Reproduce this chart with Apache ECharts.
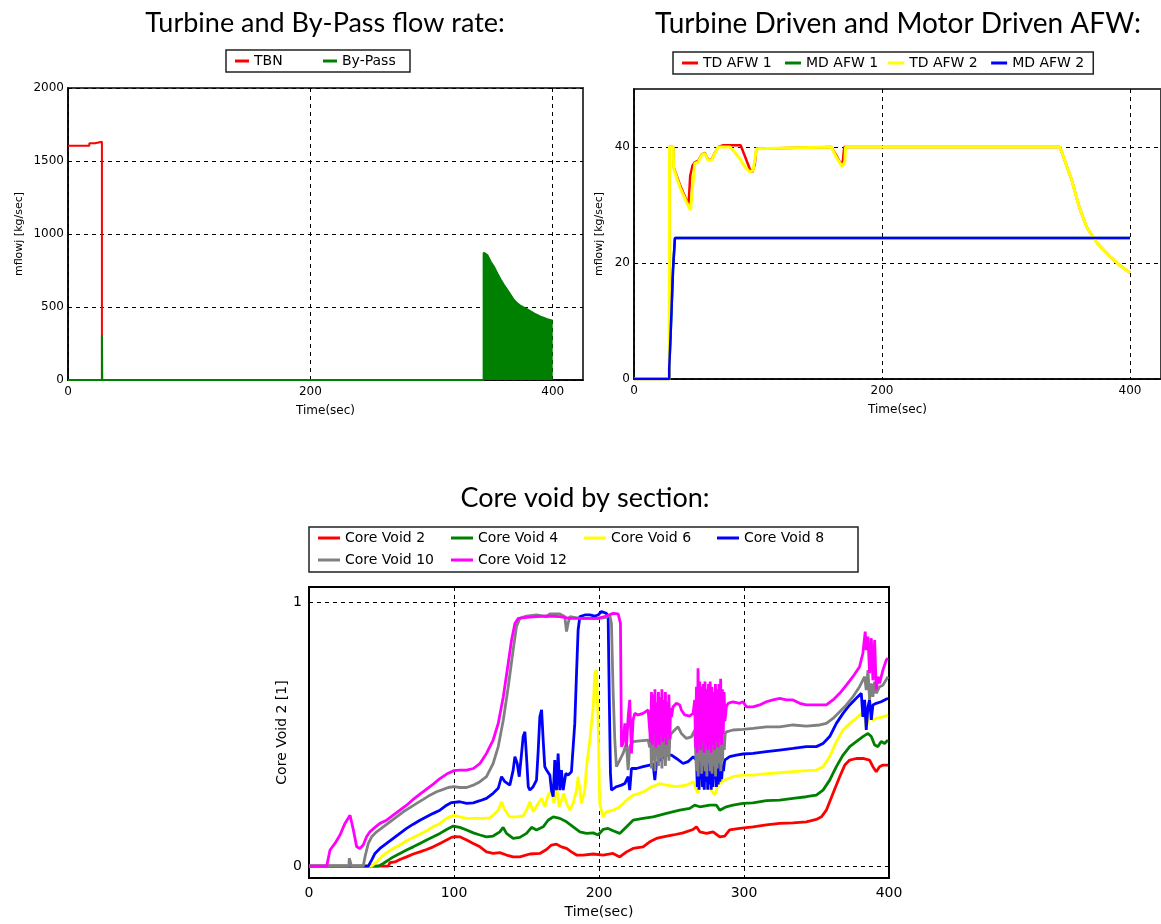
<!DOCTYPE html>
<html>
<head>
<meta charset="utf-8">
<script src="https://cdn.jsdelivr.net/npm/echarts@6/dist/echarts.min.js"></script>
<style>
html,body{margin:0;padding:0;background:#fff;}
#c{width:1161px;height:924px;}
</style>
</head>
<body>
<div id="c"></div>
<script>
// ---------- Titles ----------
const titles = ["Turbine and By-Pass flow rate:", "Turbine Driven and Motor Driven AFW:", "Core void by section:"];

// ---------- Chart 1: Turbine and By-Pass flow rate ----------
const flowNames = ["TBN", "By-Pass"];
const tbn = [[0,1605],[17.6,1605],[17.6,1621],[22.3,1621],[22.3,1632],[28,1632],[28,0],[342,0]];
const bypass = [[0,0],[28,0],[28,308],[28.3,0],[343,0],[343,872],[346,856],[348.8,810],[351.5,776],[354.3,730],[357,689],[359.8,651],[362.6,616],[365.3,582],[368,548],[370.8,525],[373.6,507],[379,484],[384.5,456],[390,434],[395.6,416],[400,406]];
const flowXTicks = [0,200,400];
const flowYTicks = [0,500,1000,1500,2000];

// ---------- Chart 2: AFW ----------
const afwNames = ["TD AFW 1", "MD AFW 1", "TD AFW 2", "MD AFW 2"];
const tdAfw1 = [[0,0],[28.4,0],[28.6,40],[31.6,40],[32,36.5],[37,33.5],[42,31],[44,30],[45.3,35],[47.2,36.8],[49.1,37.4],[51.8,37.6],[54.5,38.7],[57.1,39],[59.8,37.8],[62.5,37.8],[65.2,39],[67.9,40],[72,40.3],[86,40.3],[89.3,38.5],[93.4,36.2],[95.5,35.7],[97.4,37],[98.7,39.7],[100,40],[159,40],[163,38.6],[167,37],[168.5,37.6],[169.5,40],[343.5,40],[353,34.3],[359,29.7],[365,26.2],[374,23.3],[383,21.3],[391.7,19.6],[400,18.3]];
const mdAfw1 = [[0,0],[28.4,0],[28.4,1.8],[29.5,1.8],[29.5,7.5],[30.5,7.5],[30.5,13.3],[31.5,13.3],[31.5,19],[33,19],[33,24.3],[400,24.3]];
const tdAfw2 = [[0,0],[28.4,0],[28.6,40],[31.6,40],[32,36.3],[37,33.1],[42.4,30.5],[45.6,29.1],[47.2,33.1],[49.1,37.2],[51.8,37.4],[54.5,38.6],[57.1,38.9],[59.8,37.7],[62.5,37.7],[65.2,38.9],[67.9,40],[77.3,40],[81.3,39.1],[85.3,38.0],[89.3,36.6],[93.4,35.7],[96,36.0],[97.4,37.7],[98.7,39.7],[100,40],[159,40],[163,38.3],[168,36.6],[170,37.5],[170.6,40],[343.5,40],[353,34.3],[359,29.7],[365,26.2],[374,23.3],[383,21.3],[391.7,19.6],[400,18.3]];
const mdAfw2 = [[0,0],[28.4,0],[28.4,1.8],[29.5,1.8],[29.5,7.5],[30.5,7.5],[30.5,13.3],[31.5,13.3],[31.5,19],[33,19],[33,24.3],[400,24.3]];
const afwXTicks = [0,200,400];
const afwYTicks = [0,20,40];

// ---------- Chart 3: Core void ----------
const voidNames = ["Core Void 2","Core Void 4","Core Void 6","Core Void 8","Core Void 10","Core Void 12"];
const void2 = [[0,0],[54.7,0],[55.8,0.013],[59.3,0.016],[62.7,0.025],[67.3,0.035],[71.9,0.046],[76.5,0.054],[81.1,0.063],[85.7,0.073],[90.3,0.086],[94.9,0.099],[98.3,0.109],[101,0.112],[104,0.111],[108.7,0.099],[113.3,0.086],[117.9,0.073],[122.4,0.054],[127,0.048],[131.6,0.051],[136.2,0.042],[140.8,0.035],[145.4,0.035],[152.3,0.046],[159.2,0.048],[163.8,0.063],[167.2,0.08],[170.7,0.083],[174.1,0.073],[177.6,0.067],[181,0.054],[184.5,0.042],[189.1,0.042],[196,0.046],[202.8,0.042],[209.7,0.048],[214.3,0.035],[219,0.054],[223.5,0.067],[230.4,0.073],[235,0.092],[239.6,0.105],[244.2,0.111],[251.1,0.118],[258,0.126],[264.9,0.139],[267.2,0.149],[269.5,0.13],[274.1,0.124],[278.7,0.13],[283.3,0.111],[286.7,0.114],[290.1,0.137],[297,0.143],[306.2,0.149],[315.4,0.156],[324.6,0.162],[333.8,0.164],[343,0.168],[349.9,0.177],[353.4,0.187],[356.8,0.212],[361.4,0.276],[366,0.339],[369.5,0.383],[372.9,0.402],[377.4,0.408],[382,0.408],[386.6,0.402],[388.9,0.377],[391.2,0.358],[393.5,0.377],[395.8,0.383],[399.3,0.383]];
const void4 = [[0,0],[47.8,0],[51.2,0.01],[54.7,0.023],[58.1,0.035],[62.7,0.048],[67.3,0.061],[71.9,0.073],[76.5,0.086],[81.1,0.099],[85.7,0.111],[90.3,0.124],[94.9,0.139],[99.5,0.152],[104,0.147],[108.7,0.137],[113.3,0.126],[117.9,0.118],[122.4,0.111],[127,0.114],[131.6,0.13],[133.9,0.147],[136.2,0.124],[140.8,0.105],[145.4,0.109],[150,0.124],[153.5,0.147],[156.9,0.137],[161.5,0.149],[164.9,0.174],[168.4,0.187],[173,0.181],[177.6,0.168],[182.2,0.149],[186.8,0.13],[191.4,0.124],[196,0.126],[199.4,0.118],[202.8,0.139],[206.3,0.143],[209.7,0.134],[214.3,0.124],[219,0.149],[223.5,0.174],[230.4,0.181],[237.3,0.187],[246.5,0.2],[255.7,0.212],[262.6,0.219],[266,0.231],[269.5,0.225],[276.4,0.231],[281,0.231],[283.3,0.212],[287.8,0.225],[292.4,0.231],[299.3,0.238],[306.2,0.24],[315.4,0.248],[324.6,0.25],[333.8,0.257],[343,0.263],[349.9,0.269],[354.5,0.288],[359.1,0.326],[363.7,0.377],[368.3,0.421],[372.9,0.453],[377.4,0.472],[382,0.491],[385.5,0.503],[387.8,0.491],[390.1,0.459],[392.4,0.453],[394.6,0.472],[397,0.465],[399.3,0.478]];
const void6 = [[0,0],[43.2,0],[46.6,0.016],[50.1,0.035],[53.5,0.051],[58.1,0.067],[62.7,0.08],[67.3,0.096],[71.9,0.109],[76.5,0.121],[81.1,0.134],[85.7,0.149],[90.3,0.162],[94.9,0.181],[99.5,0.193],[104,0.187],[108.7,0.181],[113.3,0.181],[120,0.181],[124.7,0.183],[127,0.193],[130.5,0.212],[132.8,0.244],[135.1,0.212],[138.5,0.187],[143.1,0.187],[147.7,0.19],[150,0.212],[152.3,0.244],[154.6,0.206],[158.1,0.238],[160.4,0.257],[162.6,0.225],[164.9,0.269],[167.2,0.288],[168.9,0.238],[170.7,0.301],[172.5,0.225],[174.1,0.25],[175.7,0.276],[177.6,0.238],[179.9,0.212],[182.2,0.238],[184.5,0.288],[185.6,0.339],[186.8,0.288],[187.9,0.238],[190.2,0.288],[191.4,0.377],[193.7,0.478],[196,0.604],[197.1,0.731],[198.3,0.743],[199.4,0.541],[200.5,0.238],[202.8,0.187],[205.1,0.206],[209.7,0.212],[214.3,0.225],[219,0.25],[223.5,0.269],[228.1,0.276],[232.7,0.288],[236.2,0.301],[239.6,0.307],[241.9,0.313],[246.5,0.307],[253.4,0.301],[260.3,0.307],[265,0.32],[267.2,0.288],[268.3,0.276],[269.5,0.326],[271.8,0.301],[276.4,0.295],[279.8,0.269],[282.1,0.307],[284.4,0.32],[287.8,0.329],[292.4,0.339],[299.3,0.345],[306.2,0.345],[315.4,0.351],[324.6,0.354],[333.8,0.358],[343,0.362],[349.9,0.364],[354.5,0.377],[359.1,0.415],[363.7,0.472],[368.3,0.516],[372.9,0.541],[377.4,0.56],[380.9,0.579],[383.2,0.566],[384.3,0.528],[385.5,0.534],[386.6,0.566],[388.9,0.554],[391.2,0.56],[395.8,0.566],[399.3,0.573]];
const void8 = [[0,0],[40.9,0],[43.2,0.023],[45.5,0.048],[48.9,0.067],[53.5,0.086],[58.1,0.105],[62.7,0.124],[67.3,0.143],[71.9,0.159],[76.5,0.174],[81.1,0.187],[85.7,0.2],[90.3,0.212],[94.9,0.231],[98.3,0.241],[104,0.244],[108.7,0.238],[113.3,0.24],[117.9,0.248],[122.4,0.257],[127,0.276],[130.5,0.295],[132.8,0.339],[135.1,0.32],[138.5,0.307],[140.8,0.364],[142,0.415],[143.6,0.389],[145,0.339],[146.6,0.427],[147.7,0.491],[148.9,0.509],[150,0.415],[151.2,0.301],[152.3,0.288],[154.6,0.301],[156.9,0.326],[158.1,0.44],[159.2,0.566],[160.4,0.592],[161.5,0.478],[162.6,0.377],[163.8,0.364],[166.1,0.345],[167.2,0.288],[168.4,0.263],[169.5,0.402],[170.7,0.288],[171.8,0.427],[173,0.288],[174.1,0.364],[175.3,0.288],[177.1,0.351],[178.7,0.345],[181,0.358],[183.3,0.541],[184.5,0.731],[185.6,0.895],[186.8,0.946],[190.2,0.952],[193.7,0.952],[197.1,0.948],[199.4,0.952],[201.7,0.965],[205.1,0.958],[206.3,0.946],[207,0.667],[207.9,0.351],[208.6,0.288],[212,0.301],[215.5,0.307],[217.8,0.313],[218.9,0.326],[220.1,0.339],[221.2,0.288],[222.4,0.37],[225.8,0.37],[230.4,0.377],[235,0.383],[237.3,0.389],[238.5,0.326],[239.6,0.389],[241.9,0.402],[246.5,0.421],[250,0.421],[253.4,0.408],[258,0.389],[261.4,0.396],[265,0.415],[267.2,0.402],[267.8,0.3],[268.4,0.41],[269,0.29],[269.6,0.4],[270.2,0.33],[270.8,0.42],[271.4,0.3],[272,0.38],[272.6,0.29],[273.2,0.41],[273.8,0.32],[274.4,0.4],[275,0.29],[275.6,0.39],[276.2,0.31],[276.8,0.41],[277.4,0.29],[278,0.38],[278.6,0.3],[279.2,0.41],[279.8,0.33],[280.4,0.4],[281,0.3],[281.6,0.39],[282.2,0.31],[282.8,0.4],[283.4,0.32],[284,0.41],[284.6,0.33],[285.2,0.38],[285.8,0.36],[286.7,0.402],[290.1,0.415],[294.7,0.421],[299.3,0.425],[306.2,0.427],[315.4,0.434],[324.6,0.44],[333.8,0.446],[343,0.453],[349.9,0.453],[354.5,0.465],[359.1,0.491],[363.7,0.541],[368.3,0.579],[372.9,0.611],[377.4,0.636],[380.9,0.655],[382,0.566],[383.2,0.63],[384.3,0.516],[385.5,0.604],[386.6,0.63],[387.8,0.554],[388.9,0.611],[391.2,0.617],[394.6,0.623],[399.3,0.636]];
const void10 = [[0,0],[27.5,0],[27.8,0.03],[29,0.03],[29.3,0],[37.4,0],[38.6,0.035],[40.9,0.086],[43.2,0.111],[46.6,0.13],[51.2,0.149],[55.8,0.168],[60.4,0.187],[65,0.206],[69.6,0.222],[74.2,0.238],[78.8,0.253],[83.4,0.269],[88,0.282],[92.6,0.291],[96,0.298],[100,0.301],[104,0.298],[108.7,0.298],[113.3,0.307],[117.9,0.32],[122.4,0.339],[127,0.389],[130.5,0.453],[134,0.554],[137.4,0.68],[140.8,0.819],[143.1,0.908],[145.4,0.939],[150,0.948],[156.9,0.952],[163.8,0.946],[166.1,0.956],[173,0.956],[176.4,0.946],[177.6,0.889],[178.7,0.92],[179.9,0.946],[186.8,0.939],[199.4,0.939],[205.1,0.943],[207.4,0.952],[208.6,0.92],[209.7,0.667],[210.9,0.478],[212,0.377],[213.2,0.389],[216.6,0.427],[218.9,0.465],[220.1,0.364],[221.2,0.453],[223.5,0.472],[228.1,0.475],[233.9,0.478],[235,0.45],[235.6,0.52],[236.2,0.37],[236.8,0.5],[237.4,0.4],[238,0.53],[238.6,0.36],[239.2,0.48],[239.8,0.42],[240.4,0.52],[241,0.38],[241.6,0.5],[242.2,0.41],[242.8,0.53],[243.4,0.37],[244,0.49],[244.6,0.43],[245.2,0.52],[245.8,0.38],[246.4,0.5],[247,0.42],[247.6,0.51],[248.2,0.4],[248.8,0.48],[249.4,0.5],[250,0.503],[252.2,0.516],[254.5,0.528],[256.8,0.503],[260.3,0.484],[263.7,0.49],[266,0.516],[266.6,0.52],[267.2,0.36],[267.8,0.55],[268.4,0.34],[269,0.52],[269.6,0.4],[270.2,0.55],[270.8,0.35],[271.4,0.5],[272,0.38],[272.6,0.54],[273.2,0.36],[273.8,0.52],[274.4,0.34],[275,0.5],[275.6,0.4],[276.2,0.55],[276.8,0.36],[277.4,0.51],[278,0.35],[278.6,0.53],[279.2,0.38],[279.8,0.5],[280.4,0.34],[281,0.52],[281.6,0.37],[282.2,0.54],[282.8,0.39],[283.4,0.5],[284,0.36],[284.6,0.48],[285.2,0.4],[285.8,0.5],[286.4,0.44],[287,0.5],[287.8,0.509],[292.4,0.516],[299.3,0.518],[306.2,0.522],[315.4,0.528],[324.6,0.528],[333.8,0.535],[343,0.531],[352.2,0.535],[356.8,0.541],[361.4,0.56],[366,0.585],[370.6,0.611],[375.1,0.642],[379.7,0.68],[383.2,0.718],[384.3,0.667],[385.5,0.743],[386.6,0.63],[387.8,0.693],[388.9,0.642],[390.1,0.699],[391.2,0.655],[393.5,0.68],[395.8,0.686],[399.3,0.718]];
const void12 = [[0,0],[12.2,0],[14.5,0.061],[17.9,0.086],[21.4,0.118],[24.8,0.162],[28.3,0.193],[30.6,0.137],[32.9,0.073],[35.1,0.067],[37.4,0.08],[39.7,0.111],[42,0.13],[45.5,0.147],[48.9,0.162],[53.5,0.174],[58.1,0.193],[62.7,0.212],[67.3,0.231],[71.9,0.253],[76.5,0.273],[81.1,0.292],[85.7,0.311],[90.3,0.332],[94.9,0.349],[100,0.362],[104,0.364],[108.7,0.364],[113.3,0.37],[117.9,0.389],[122.4,0.427],[127,0.478],[130.5,0.541],[134,0.642],[137.4,0.769],[139.7,0.857],[142,0.92],[144.3,0.939],[150,0.943],[156.9,0.946],[163.8,0.948],[173,0.946],[179.9,0.939],[186.8,0.939],[193.7,0.939],[199.4,0.939],[205.1,0.948],[209.7,0.958],[213.2,0.956],[214.8,0.92],[215.5,0.453],[216.6,0.465],[217.8,0.541],[219,0.453],[220.1,0.566],[221.2,0.63],[222.4,0.427],[223.5,0.554],[224.7,0.579],[227,0.573],[230.4,0.579],[233.9,0.592],[235,0.59],[235.6,0.47],[236.2,0.66],[236.8,0.46],[237.4,0.65],[238,0.5],[238.6,0.67],[239.2,0.45],[239.8,0.62],[240.4,0.48],[241,0.66],[241.6,0.46],[242.2,0.64],[242.8,0.5],[243.4,0.67],[244,0.47],[244.6,0.63],[245.2,0.49],[245.8,0.66],[246.4,0.46],[247,0.62],[247.6,0.5],[248.2,0.65],[248.8,0.48],[249.4,0.6],[250,0.566],[251.1,0.604],[253.4,0.617],[255.7,0.611],[256.8,0.592],[259.1,0.573],[262.6,0.569],[264.9,0.579],[266,0.63],[266.6,0.45],[267.2,0.68],[267.8,0.43],[268.3,0.75],[268.9,0.46],[269.5,0.7],[270.1,0.44],[270.7,0.68],[271.3,0.47],[271.9,0.69],[272.5,0.43],[273.1,0.7],[273.7,0.46],[274.3,0.67],[274.9,0.44],[275.5,0.69],[276.1,0.47],[276.7,0.7],[277.3,0.43],[277.9,0.68],[278.5,0.46],[279.1,0.66],[279.7,0.44],[280.3,0.69],[280.9,0.47],[281.5,0.67],[282.1,0.45],[282.7,0.69],[283.3,0.48],[283.9,0.71],[284.5,0.46],[285.1,0.67],[285.7,0.5],[286.3,0.66],[286.9,0.55],[287.8,0.604],[289,0.617],[292.4,0.623],[297,0.617],[299.3,0.623],[301.6,0.604],[306.2,0.604],[310.8,0.611],[315.4,0.623],[320,0.63],[324.6,0.636],[329.2,0.63],[333.8,0.63],[338.4,0.617],[343,0.611],[352.2,0.611],[356.8,0.611],[361.4,0.63],[366,0.655],[370.6,0.686],[375.1,0.718],[379.7,0.756],[382,0.807],[383.6,0.889],[384.3,0.819],[385.5,0.87],[386.6,0.731],[387.8,0.864],[388.9,0.705],[390.1,0.857],[391.2,0.667],[392.4,0.718],[393.5,0.693],[395.8,0.743],[398.1,0.781],[399.3,0.788]];
const voidXTicks = [0,100,200,300,400];
const voidYTicks = [0,1];

// ---------- Build ----------
const FONT = "'DejaVu Sans', sans-serif";
const TITLE_FONT = "Lato, 'Open Sans', sans-serif";
const gridLine = {show:true, lineStyle:{color:'#000', type:[4,4], width:1}};
const plain = v => String(v);

function xAx(gridIndex, min, max, ticks, fs, margin, nameGap) {
  return {
    type:'value', gridIndex, min, max,
    axisLine:{show:true, onZero:false, lineStyle:{color:'#000', width:1.5}},
    axisTick:{show:false, customValues:ticks},
    axisLabel:{customValues:ticks, formatter:plain, color:'#000', fontFamily:FONT, fontSize:fs, margin},
    splitLine:gridLine,
    name:'Time(sec)', nameLocation:'middle', nameGap,
    nameTextStyle:{color:'#000', fontFamily:FONT, fontSize:fs}
  };
}
function yAx(gridIndex, min, max, ticks, fs, margin, name, nameGap, nameFs) {
  return {
    type:'value', gridIndex, min, max,
    axisLine:{show:true, lineStyle:{color:'#000', width:1.5}},
    axisTick:{show:false, customValues:ticks},
    axisLabel:{customValues:ticks, formatter:plain, color:'#000', fontFamily:FONT, fontSize:fs, margin},
    splitLine:gridLine,
    name, nameLocation:'middle', nameGap,
    nameTextStyle:{color:'#000', fontFamily:FONT, fontSize:nameFs}
  };
}
function line(name, data, color, xi, width, extra) {
  return Object.assign({
    name, type:'line', data, xAxisIndex:xi, yAxisIndex:xi,
    showSymbol:false, symbol:'none', color,
    lineStyle:{color, width}, animation:false
  }, extra||{});
}
function legendBox(left, top, names, fs, itemWidth, textW, gap, padding, width) {
  const l = {
    left, top, data:names, padding, itemGap:gap, itemWidth, itemHeight:3, icon:'rect',
    borderColor:'#222', borderWidth:1.5, backgroundColor:'#fff',
    textStyle:{color:'#000', fontFamily:FONT, fontSize:fs, width:textW, lineHeight:16},
    selectedMode:false
  };
  if (width) l.width = width;
  return l;
}
function titleAt(text, x, top, fs) {
  return {text, left:x, top, textAlign:'center', padding:0,
    textStyle:{fontFamily:TITLE_FONT, fontSize:fs, fontWeight:'normal', color:'#000'}};
}

const option = {
  animation:false,
  backgroundColor:'#fff',
  title:[
    titleAt(titles[0], 325, 10, 27),
    titleAt(titles[1], 898, 10, 28),
    titleAt(titles[2], 585, 485, 27)
  ],
  legend:[
    legendBox(226, 50, flowNames, 14, 14, 57, 12, [3,11,3,9]),
    legendBox(673, 52, afwNames, 14, 16, 72, 10, [3,9,3,9]),
    legendBox(309, 527, voidNames, 14, 22, 100, 6, [3,14,4,9], 526)
  ],
  grid:[
    {left:68, top:88, width:515, height:292, show:true, borderColor:'#404040', borderWidth:2, backgroundColor:'#fff'},
    {left:634, top:89, width:528, height:290, show:true, borderColor:'#404040', borderWidth:2, backgroundColor:'#fff'},
    {left:309, top:587, width:580, height:291, show:true, borderColor:'#000', borderWidth:2, backgroundColor:'#fff'}
  ],
  xAxis:[
    xAx(0, 0, 425, flowXTicks, 12, 6, 25),
    xAx(1, 0, 425, afwXTicks, 12, 6, 25),
    xAx(2, 0, 400, voidXTicks, 14, 8, 27)
  ],
  yAxis:[
    yAx(0, 0, 2000, flowYTicks, 12, 4, 'mflowj [kg/sec]', 43, 11),
    yAx(1, 0, 50, afwYTicks, 12, 4, 'mflowj [kg/sec]', 29, 11),
    yAx(2, -0.045, 1.058, voidYTicks, 14, 7, 'Core Void 2 [1]', 17, 14)
  ],
  series:[
    line(flowNames[0], tbn, '#ff0000', 0, 2),
    line(flowNames[1], bypass, '#008000', 0, 2, {areaStyle:{color:'#008000', opacity:1}}),
    line(afwNames[0], tdAfw1, '#ff0000', 1, 2.5),
    line(afwNames[1], mdAfw1, '#008000', 1, 2.5),
    line(afwNames[2], tdAfw2, '#ffff00', 1, 3),
    line(afwNames[3], mdAfw2, '#0000ff', 1, 2.5),
    line(voidNames[0], void2, '#ff0000', 2, 2.8),
    line(voidNames[1], void4, '#008000', 2, 2.8),
    line(voidNames[2], void6, '#ffff00', 2, 2.8),
    line(voidNames[3], void8, '#0000ff', 2, 2.8),
    line(voidNames[4], void10, '#808080', 2, 2.8),
    line(voidNames[5], void12, '#ff00ff', 2, 2.8)
  ]
};
const chart = echarts.init(document.getElementById('c'), null, {renderer:'canvas'});
chart.setOption(option);
</script>
</body>
</html>
